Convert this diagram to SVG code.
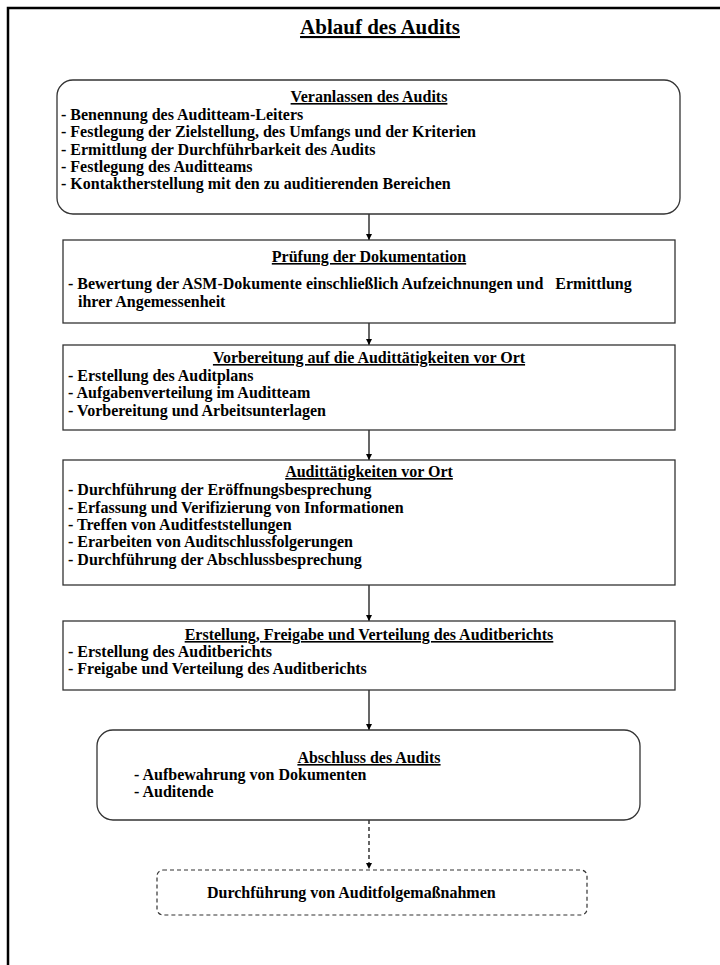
<svg xmlns="http://www.w3.org/2000/svg" width="720" height="965" viewBox="0 0 720 965">
<defs>
<marker id="ah" viewBox="0 0 10 10" refX="10" refY="5" markerWidth="6" markerHeight="6" markerUnits="userSpaceOnUse" orient="auto">
<path d="M0,0 L10,5 L0,10 z" fill="#000"/>
</marker>
<style>
text{font-family:"Liberation Serif","Times New Roman",serif;font-weight:bold;font-size:16px;fill:#000}
.h{text-anchor:middle;text-decoration:underline}
.t{font-size:21px}
.box{fill:#fff;stroke:#333;stroke-width:1.3}
.dash{fill:#fff;stroke:#333;stroke-width:1.2;stroke-dasharray:4,3}
.c{stroke:#000;stroke-width:1.2;fill:none}
</style>
</defs>
<rect width="720" height="965" fill="#fff"/>
<path d="M8,970 V8 H730" fill="none" stroke="#000" stroke-width="2.5"/>
<text class="h t" x="380" y="34">Ablauf des Audits</text>

<g id="connectors">
<line class="c" x1="369" y1="214" x2="369" y2="240" marker-end="url(#ah)"/>
<line class="c" x1="369" y1="323" x2="369" y2="345" marker-end="url(#ah)"/>
<line class="c" x1="369" y1="430" x2="369" y2="460" marker-end="url(#ah)"/>
<line class="c" x1="369" y1="585" x2="369" y2="621" marker-end="url(#ah)"/>
<line class="c" x1="369" y1="690" x2="369" y2="730" marker-end="url(#ah)"/>
<line class="c" x1="369" y1="820" x2="369" y2="869" stroke-dasharray="4,3" marker-end="url(#ah)"/>
</g>

<g id="n1">
<rect class="box" x="57" y="80" width="623" height="134" rx="16"/>
<text class="h" x="369" y="102">Veranlassen des Audits</text>
<text x="61" y="120">- Benennung des Auditteam-Leiters</text>
<text x="61" y="137">- Festlegung der Zielstellung, des Umfangs und der Kriterien</text>
<text x="61" y="155">- Ermittlung der Durchführbarkeit des Audits</text>
<text x="61" y="172">- Festlegung des Auditteams</text>
<text x="61" y="189">- Kontaktherstellung mit den zu auditierenden Bereichen</text>
</g>

<g id="n2">
<rect class="box" x="63" y="240" width="612" height="83"/>
<text class="h" x="369" y="262">Prüfung der Dokumentation</text>
<text x="68" y="289" xml:space="preserve">- Bewertung der ASM-Dokumente einschließlich Aufzeichnungen und   Ermittlung</text>
<text x="78" y="307">ihrer Angemessenheit</text>
</g>

<g id="n3">
<rect class="box" x="63" y="345" width="612" height="85"/>
<text class="h" x="369" y="363">Vorbereitung auf die Audittätigkeiten vor Ort</text>
<text x="68" y="381">- Erstellung des Auditplans</text>
<text x="68" y="398">- Aufgabenverteilung im Auditteam</text>
<text x="68" y="416">- Vorbereitung und Arbeitsunterlagen</text>
</g>

<g id="n4">
<rect class="box" x="63" y="460" width="612" height="125"/>
<text class="h" x="369" y="477">Audittätigkeiten vor Ort</text>
<text x="68" y="495">- Durchführung der Eröffnungsbesprechung</text>
<text x="68" y="513">- Erfassung und Verifizierung von Informationen</text>
<text x="68" y="530">- Treffen von Auditfeststellungen</text>
<text x="68" y="547">- Erarbeiten von Auditschlussfolgerungen</text>
<text x="68" y="565">- Durchführung der Abschlussbesprechung</text>
</g>

<g id="n5">
<rect class="box" x="63" y="621" width="612" height="69"/>
<text class="h" x="369" y="640">Erstellung, Freigabe und Verteilung des Auditberichts</text>
<text x="68" y="657">- Erstellung des Auditberichts</text>
<text x="68" y="674">- Freigabe und Verteilung des Auditberichts</text>
</g>

<g id="n6">
<rect class="box" x="97" y="730" width="543" height="90" rx="16"/>
<text class="h" x="369" y="763">Abschluss des Audits</text>
<text x="134" y="780">- Aufbewahrung von Dokumenten</text>
<text x="134" y="797">- Auditende</text>
</g>

<g id="n7">
<rect class="dash" x="157" y="870" width="430" height="45" rx="6"/>
<text x="207" y="898">Durchführung von Auditfolgemaßnahmen</text>
</g>
</svg>
